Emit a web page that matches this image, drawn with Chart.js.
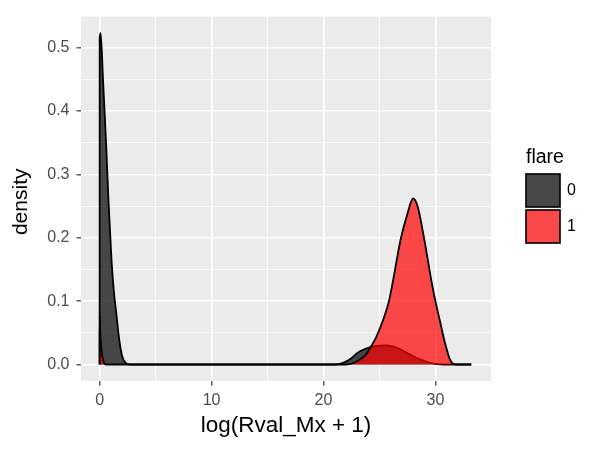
<!DOCTYPE html>
<html>
<head>
<meta charset="utf-8">
<script src="https://cdn.jsdelivr.net/npm/chart.js@4.4.1/dist/chart.umd.min.js"></script>
<style>
  html, body { margin: 0; padding: 0; background: #ffffff; }
  #wrap { width: 600px; height: 450px; }
</style>
</head>
<body>
<div id="wrap"><canvas id="c" width="600" height="450"></canvas></div>
<script>
// ---- data ----
const groups = ["0", "1"];
// flare = 0 density
const xFlare0 = [0, 0.005, 0.09, 0.3, 0.58, 0.8, 1.07, 1.3, 1.47, 1.73, 2.0, 2.3, 2.7,
                 21.0, 21.8, 22.5, 23.0, 23.8, 24.6, 25.5, 26.3, 27.0, 27.7, 28.5, 29.3, 30.0, 30.8, 33.2];
const yFlare0 = [0, 0.515, 0.523, 0.45, 0.348, 0.255, 0.162, 0.11, 0.084, 0.042, 0.014, 0.003, 0,
                 0, 0.003, 0.01, 0.018, 0.025, 0.029, 0.030, 0.028, 0.023, 0.016, 0.009, 0.004, 0.001, 0, 0];
// flare = 1 density
const xFlare1 = [0, 0.003, 0.06, 0.15, 0.3, 0.45, 0.6,
                 22.0, 22.6, 23.2, 23.8, 24.3, 24.7, 25.3, 25.85, 26.2, 26.9, 27.5, 28.0, 28.4,
                 29.0, 29.65, 30.0, 30.4, 30.8, 31.25, 31.6, 32.0, 33.2];
const yFlare1 = [0, 0.077, 0.05, 0.025, 0.008, 0.001, 0,
                 0, 0.002, 0.007, 0.016, 0.03, 0.043, 0.069, 0.1, 0.131, 0.198, 0.238, 0.262, 0.25,
                 0.198, 0.131, 0.1, 0.069, 0.038, 0.01, 0.001, 0, 0];
const xTicks = [0, 5, 10, 15, 20, 25, 30];
const yTicks = [0, 0.05, 0.1, 0.15, 0.2, 0.25, 0.3, 0.35, 0.4, 0.45, 0.5];
const xRange = [-1.665, 34.965];
const yRange = [-0.026, 0.549];
const xTitle = "log(Rval_Mx + 1)";
const yTitle = "density";
const legendTitle = "flare";

// ---- build ----
const FONT = '"Liberation Sans", Arial, Helvetica, sans-serif';
const toPts = (xs, ys) => xs.map((x, i) => ({ x: x, y: ys[i] }));
const fills = ["rgba(0,0,0,0.7)", "rgba(255,0,0,0.7)"];
const isMajorY = v => Math.abs(v * 10 - Math.round(v * 10)) < 1e-6;
const isMajorX = v => Math.abs(v / 10 - Math.round(v / 10)) < 1e-6;

const panelBg = {
  id: 'panelBg',
  beforeDraw(chart) {
    const { ctx, chartArea: a } = chart;
    ctx.save();
    ctx.fillStyle = '#ebebeb';
    ctx.fillRect(a.left, a.top, a.right - a.left, a.bottom - a.top);
    ctx.restore();
  }
};

const decorations = {
  id: 'decorations',
  afterDraw(chart) {
    const { ctx, chartArea: a } = chart;
    ctx.save();
    ctx.fillStyle = '#000000';
    ctx.textAlign = 'center';
    ctx.textBaseline = 'middle';
    ctx.font = '22.5px ' + FONT;
    ctx.fillText(xTitle, (a.left + a.right) / 2, 426);
    ctx.save();
    ctx.font = '21px ' + FONT;
    ctx.translate(21, (a.top + a.bottom) / 2 + 3);
    ctx.rotate(-Math.PI / 2);
    ctx.fillText(yTitle, 0, 0);
    ctx.restore();
    // legend
    ctx.font = '19.5px ' + FONT;
    ctx.textAlign = 'left';
    ctx.textBaseline = 'alphabetic';
    ctx.fillText(legendTitle, 526, 163);
    const keyX = 525, keyW = 36, keyH = 35, keyY0 = 173;
    groups.forEach((g, i) => {
      const y = keyY0 + i * (keyH + 1);
      ctx.fillStyle = '#f2f2f2';
      ctx.fillRect(keyX, y, keyW, keyH);
      ctx.fillStyle = fills[i];
      ctx.fillRect(keyX + 1, y + 1, keyW - 2, keyH - 2);
      ctx.strokeStyle = '#000000';
      ctx.lineWidth = 1.6;
      ctx.strokeRect(keyX + 1, y + 1, keyW - 2, keyH - 2);
      ctx.fillStyle = '#000000';
      ctx.font = '16px ' + FONT;
      ctx.textBaseline = 'middle';
      ctx.fillText(g, 567, y + keyH / 2 + 0.5);
    });
    ctx.restore();
  }
};

const ds = (i, xs, ys, order) => ({
  label: groups[i],
  data: toPts(xs, ys),
  backgroundColor: fills[i],
  borderColor: '#000000',
  borderWidth: 1.8,
  fill: 'origin',
  pointRadius: 0,
  cubicInterpolationMode: 'monotone',
  order: order
});

new Chart(document.getElementById('c'), {
  type: 'line',
  data: {
    datasets: [
      ds(0, xFlare0, yFlare0, 1),
      ds(1, xFlare1, yFlare1, 0)
    ]
  },
  options: {
    responsive: false,
    animation: false,
    devicePixelRatio: 1,
    layout: { padding: { left: 0, top: 10, right: 109, bottom: 0 } },
    plugins: { legend: { display: false }, tooltip: { enabled: false } },
    scales: {
      x: {
        type: 'linear',
        min: xRange[0], max: xRange[1],
        afterBuildTicks: s => { s.ticks = xTicks.map(v => ({ value: v })); },
        afterFit: s => { s.height = 69; },
        border: { display: false },
        grid: {
          color: '#ffffff',
          lineWidth: c => (c.tick && isMajorX(c.tick.value)) ? 1.6 : 0.8,
          tickColor: c => (c.tick && isMajorX(c.tick.value)) ? '#333333' : 'rgba(0,0,0,0)',
          tickLength: 4.5,
          tickWidth: 1.2
        },
        ticks: {
          autoSkip: false, maxRotation: 0, padding: 5,
          color: '#4d4d4d',
          font: { family: FONT, size: 16 },
          callback: v => isMajorX(v) ? String(Math.round(v)) : ''
        }
      },
      y: {
        type: 'linear',
        min: yRange[0], max: yRange[1],
        afterBuildTicks: s => { s.ticks = yTicks.map(v => ({ value: v })); },
        afterFit: s => { s.width = 81; },
        border: { display: false },
        grid: {
          color: '#ffffff',
          lineWidth: c => (c.tick && isMajorY(c.tick.value)) ? 1.6 : 0.8,
          tickColor: c => (c.tick && isMajorY(c.tick.value)) ? '#333333' : 'rgba(0,0,0,0)',
          tickLength: 4.5,
          tickWidth: 1.2
        },
        ticks: {
          autoSkip: false, padding: 7,
          color: '#4d4d4d',
          font: { family: FONT, size: 16 },
          callback: v => isMajorY(v) ? v.toFixed(1) : ''
        }
      }
    }
  },
  plugins: [panelBg, decorations]
});
</script>
</body>
</html>
